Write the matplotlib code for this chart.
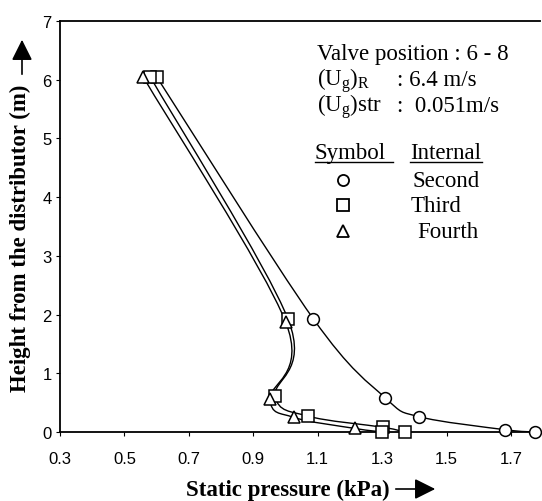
import numpy as np
import matplotlib
matplotlib.use("Agg")
import matplotlib.pyplot as plt
from matplotlib.path import Path
from matplotlib.patches import PathPatch, FancyArrowPatch

plt.rcParams["mathtext.fontset"] = "custom"
plt.rcParams["mathtext.rm"] = "Liberation Serif"
plt.rcParams["mathtext.it"] = "Liberation Serif:italic"

SERIF = "Liberation Serif"
SANS = "Liberation Sans"

# static pressure (kPa) vs height from distributor (m)
second_p = [0.60, 1.086, 1.31, 1.415, 1.68, 1.775]
second_h = [6.05, 1.93, 0.58, 0.26, 0.04, 0.0]
second_m = ["s", "o", "o", "o", "o", "o"]

third_p = [0.58, 1.008, 0.968, 1.07, 1.303, 1.37]
third_h = [6.05, 1.92, 0.61, 0.27, 0.08, 0.0]
third_m = ["s", "s", "s", "s", "s", "s"]

fourth_p = [0.558, 1.0, 0.952, 1.025, 1.216, 1.30]
fourth_h = [6.05, 1.88, 0.56, 0.25, 0.06, 0.0]
fourth_m = ["^", "^", "^", "^", "^", "s"]

x_ticks = [0.3, 0.5, 0.7, 0.9, 1.1, 1.3, 1.5, 1.7]
y_ticks = [0, 1, 2, 3, 4, 5, 6, 7]

W, H = 542, 502
fig = plt.figure(figsize=(W / 100, H / 100), dpi=100)
ax = fig.add_axes([60 / W, 1 - 433 / H, 480 / W, 411 / H])
ax.set_xlim(0.3, 1.79)
ax.set_ylim(0, 7)
ax.set_xticks(x_ticks)
ax.set_xticklabels([f"{v:.1f}" for v in x_ticks])
ax.set_yticks(y_ticks)
ax.tick_params(direction="out", length=3, width=0.8, labelsize=12)
ax.tick_params(axis="x", pad=11)
ax.tick_params(axis="y", pad=3)
for lab in ax.get_xticklabels() + ax.get_yticklabels():
    lab.set_fontfamily(SANS)
ax.spines["right"].set_visible(False)
for s in ("left", "bottom", "top"):
    ax.spines[s].set_linewidth(1.3)


def smooth_curve(xs, ys):
    # Catmull-Rom style bezier through the points, computed in display space
    pts = ax.transData.transform(np.column_stack([xs, ys]))
    verts = [pts[0]]
    codes = [Path.MOVETO]
    n = len(pts)
    for i in range(n - 1):
        p0 = pts[max(i - 1, 0)]
        p1 = pts[i]
        p2 = pts[i + 1]
        p3 = pts[min(i + 2, n - 1)]
        c1 = p1 + (p2 - p0) / 6
        c2 = p2 - (p3 - p1) / 6
        verts += [c1, c2, p2]
        codes += [Path.CURVE4] * 3
    verts = ax.transData.inverted().transform(np.array(verts))
    ax.add_patch(PathPatch(Path(verts, codes), fill=False, lw=1.0,
                           ec="black", zorder=2))


for xs, ys, ms in [(second_p, second_h, second_m),
                   (third_p, third_h, third_m),
                   (fourth_p, fourth_h, fourth_m)]:
    smooth_curve(xs, ys)
    for x, y, m in zip(xs, ys, ms):
        ax.plot([x], [y], marker=m, ms=8 if m != "o" else 8.5, mfc="white",
                mec="black", mew=1.1, ls="none", zorder=3, clip_on=False)


def px(x, y):
    return x / W, 1 - y / H


fs = 16.5
fig.text(*px(317, 60), "Valve position : 6 - 8", family=SERIF, fontsize=fs)
fig.text(*px(317, 86), "(U$_{\\rm g}$)$_{\\rm R}$", family=SERIF, fontsize=fs)
fig.text(*px(397, 86), ": 6.4 m/s", family=SERIF, fontsize=fs)
fig.text(*px(317, 112), "(U$_{\\rm g}$)str", family=SERIF, fontsize=fs)
fig.text(*px(397, 112), ":  0.051m/s", family=SERIF, fontsize=fs)

fig.text(*px(315, 159), "Symbol", family=SERIF, fontsize=fs)
fig.text(*px(410, 159), "Internal", family=SERIF, fontsize=fs)
fig.add_artist(plt.Line2D([315 / W, 393 / W], [1 - 163 / H] * 2,
                          color="black", lw=1, transform=fig.transFigure))
fig.add_artist(plt.Line2D([410 / W, 482 / W], [1 - 163 / H] * 2,
                          color="black", lw=1, transform=fig.transFigure))

for name, mk, y, xt in [("Second", "o", 187, 412), ("Third", "s", 212, 411),
                        ("Fourth", "^", 238, 417)]:
    fig.add_artist(plt.Line2D([343 / W], [1 - (y - 6) / H], marker=mk,
                              ms=8, mfc="white", mec="black", mew=1.3,
                              ls="none", transform=fig.transFigure))
    fig.text(*px(xt, y), name, family=SERIF, fontsize=fs)

# axis labels with arrows
fig.text(*px(20, 238), "Height from the distributor (m)", family=SERIF,
         fontsize=16.5, fontweight="bold", rotation=90, ha="center",
         va="center")
fig.add_artist(FancyArrowPatch(
    px(22, 78), px(22, 38), transform=fig.transFigure,
    arrowstyle="-|>,head_length=0.9,head_width=0.45", mutation_scale=14,
    color="black", lw=1.2))

fig.text(*px(288, 496), "Static pressure (kPa)", family=SERIF, fontsize=16.5,
         fontweight="bold", ha="center", va="baseline")
fig.add_artist(FancyArrowPatch(
    px(393, 490), px(438, 490), transform=fig.transFigure,
    arrowstyle="-|>,head_length=0.9,head_width=0.45", mutation_scale=14,
    color="black", lw=1.2))

fig.savefig("out.png", dpi=100)
